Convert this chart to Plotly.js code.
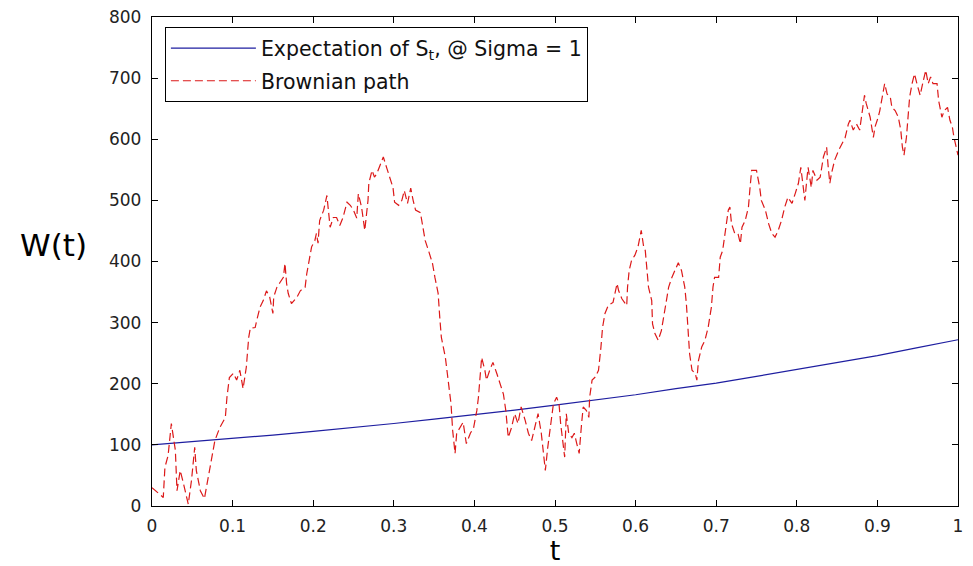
<!DOCTYPE html>
<html>
<head>
<meta charset="utf-8">
<script src="https://cdn.plot.ly/plotly-3.0.1.min.js"></script>
<style>html,body{margin:0;padding:0;background:#fff;}#chart{width:973px;height:566px;}</style>
</head>
<body>
<div id="chart"></div>
<script>
// Expectation curve
const expT = [0,0.05,0.1,0.15,0.2,0.25,0.3,0.35,0.4,0.45,0.5,0.55,0.6,0.65,0.7,0.75,0.8,0.85,0.9,0.95,1];
const expW = [100,105,110,116,122,128,135,142,149,157,165,173,182,192,201,212,223,234,246,259,272];

// Brownian path
const pathT = [0,0.014,0.016,0.020,0.024,0.029,0.031,0.035,0.039,0.045,0.049,0.053,0.055,0.060,0.065,0.070,0.074,0.078,0.084,0.091,0.093,0.096,0.101,0.105,0.109,0.113,0.117,0.118,0.120,0.122,0.128,0.130,0.134,0.138,0.142,0.146,0.150,0.151,0.155,0.159,0.163,0.165,0.167,0.169,0.173,0.180,0.184,0.190,0.192,0.195,0.198,0.202,0.204,
0.206,0.208,0.213,0.217,0.221,0.225,0.229,0.233,0.237,0.242,0.246,0.250,0.254,0.256,0.260,0.264,0.268,0.269,0.273,0.276,0.279,0.283,0.287,0.291,0.295,0.299,0.301,0.306,0.310,0.313,0.317,0.321,0.324,0.327,0.333,0.335,0.339,0.343,0.348,0.351,0.355,0.357,0.359,0.364,0.368,0.371,0.373,0.376,0.378,0.382,0.386,0.390,0.395,0.399,0.403,0.405,0.409,0.413,
0.415,0.419,0.423,0.428,0.432,0.436,0.439,0.440,0.442,0.446,0.450,0.454,0.458,0.463,0.467,0.471,0.475,0.479,0.483,0.486,0.488,0.491,0.494,0.498,0.502,0.505,0.507,0.510,0.512,0.514,0.517,0.521,0.524,0.527,0.530,0.533,0.535,0.539,0.542,0.543,0.546,0.550,0.554,0.557,0.559,0.562,0.566,0.572,0.577,0.579,0.583,0.589,0.590,0.592,0.595,0.599,0.603,0.607,0.610,0.612,
0.614,0.616,0.620,0.621,0.624,0.628,0.632,0.636,0.641,0.645,0.649,0.653,0.657,0.661,0.663,0.665,0.667,0.670,0.674,0.676,0.678,0.682,0.686,0.690,0.694,0.696,0.698,0.703,0.705,0.708,0.711,0.715,0.717,0.719,0.723,0.727,0.730,0.732,0.736,0.740,0.742,0.744,0.750,0.754,0.756,0.761,0.765,0.769,0.773,0.777,0.781,0.785,0.789,0.794,0.798,0.802,0.805,0.808,0.810,
0.812,0.814,0.818,0.820,0.825,0.829,0.833,0.837,0.839,0.841,0.843,0.847,0.852,0.856,0.860,0.864,0.866,0.870,0.874,0.878,0.881,0.884,0.886,0.891,0.895,0.897,0.901,0.903,0.906,0.909,0.912,0.916,0.918,0.922,0.926,0.929,0.931,0.933,0.936,0.938,0.940,0.943,0.946,0.949,0.953,0.957,0.960,0.963,0.966,0.969,0.974,0.976,0.980,0.983,0.987,0.990,0.993,0.995,0.998,1.000];
const pathW = [30,14,63,83,135,91,25,58,37,3,42,96,58,25,12,47,79,107,128,145,178,210,217,206,222,192,227,243,276,291,292,304,325,336,352,342,315,342,358,366,374,397,364,348,331,342,352,358,380,402,424,434,446,
430,467,484,508,456,472,472,459,472,497,492,484,471,511,489,451,500,528,549,538,544,557,571,554,538,521,497,492,500,516,495,520,500,484,480,462,434,418,397,374,348,309,276,243,200,167,124,86,119,128,137,102,119,128,156,178,243,222,
206,222,235,216,200,183,156,140,112,128,151,135,162,140,119,107,128,151,119,86,58,96,128,167,178,167,135,102,80,151,119,112,119,102,86,135,162,156,145,178,206,211,222,260,292,315,328,333,364,352,339,328,358,385,402,410,424,451,424,418,
391,358,336,298,282,271,287,320,358,374,385,398,385,358,331,292,249,222,217,206,238,260,271,292,325,358,374,374,407,418,446,484,489,462,446,446,429,456,467,489,521,549,549,521,500,484,462,446,440,451,467,489,505,495,511,528,554,521,500,
528,554,521,549,533,538,571,587,554,528,544,566,582,593,603,625,631,615,625,615,647,672,659,636,603,620,636,647,669,691,674,669,652,647,636,615,587,574,603,636,669,691,707,691,672,696,713,691,702,691,691,663,636,647,652,631,620,603,587,574];

const xTicks = [0,0.1,0.2,0.3,0.4,0.5,0.6,0.7,0.8,0.9,1];
const xTickText = ['0','0.1','0.2','0.3','0.4','0.5','0.6','0.7','0.8','0.9','1'];
const yTicks = [0,100,200,300,400,500,600,700,800];

const FONT = 'DejaVu Sans, Liberation Sans, Arial, sans-serif';

const traces = [
  {x: expT, y: expW, type: 'scatter', mode: 'lines', name: 'Expectation of S<sub>t</sub>, @ Sigma = 1',
   legendgroup: 'a', line: {color: 'rgb(30,30,160)', width: 1.2}},
  {x: pathT, y: pathW, type: 'scatter', mode: 'lines', name: 'Brownian path',
   legendgroup: 'b', line: {color: 'rgb(220,25,25)', width: 1.2, dash: '8px,4px'}}
];

const axisCommon = {
  showline: true, linecolor: '#000', linewidth: 1.2, mirror: 'ticks',
  ticks: 'inside', ticklen: 6, tickcolor: '#000', tickwidth: 1,
  showgrid: false, zeroline: false,
  tickfont: {family: FONT, size: 17, color: '#222'}
};

const layout = {
  width: 973, height: 566,
  margin: {l: 152, r: 15, t: 17, b: 60},
  paper_bgcolor: '#fff', plot_bgcolor: '#fff',
  showlegend: true,
  legend: {x: 0.016, y: 0.979, xanchor: 'left', yanchor: 'top',
    bgcolor: '#fff', bordercolor: '#000', borderwidth: 1,
    font: {family: FONT, size: 20.5, color: '#111'}, itemwidth: 85,
    traceorder: 'grouped', tracegroupgap: 3},
  xaxis: Object.assign({}, axisCommon, {range: [0, 1], tickvals: xTicks, ticktext: xTickText,
    ticklabelstandoff: 4,
    title: {text: 't', font: {family: FONT, size: 27, color: '#000'}, standoff: 2}}),
  yaxis: Object.assign({}, axisCommon, {range: [0, 800], tickvals: yTicks, ticklabelstandoff: 6}),
  annotations: [
    {text: 'W(t)', xref: 'paper', yref: 'paper', x: -0.122, y: 0.533, xanchor: 'center', yanchor: 'middle',
     showarrow: false, font: {family: FONT, size: 31, color: '#000'}}
  ]
};

Plotly.newPlot('chart', traces, layout, {displayModeBar: false, staticPlot: true});
</script>
</body>
</html>
